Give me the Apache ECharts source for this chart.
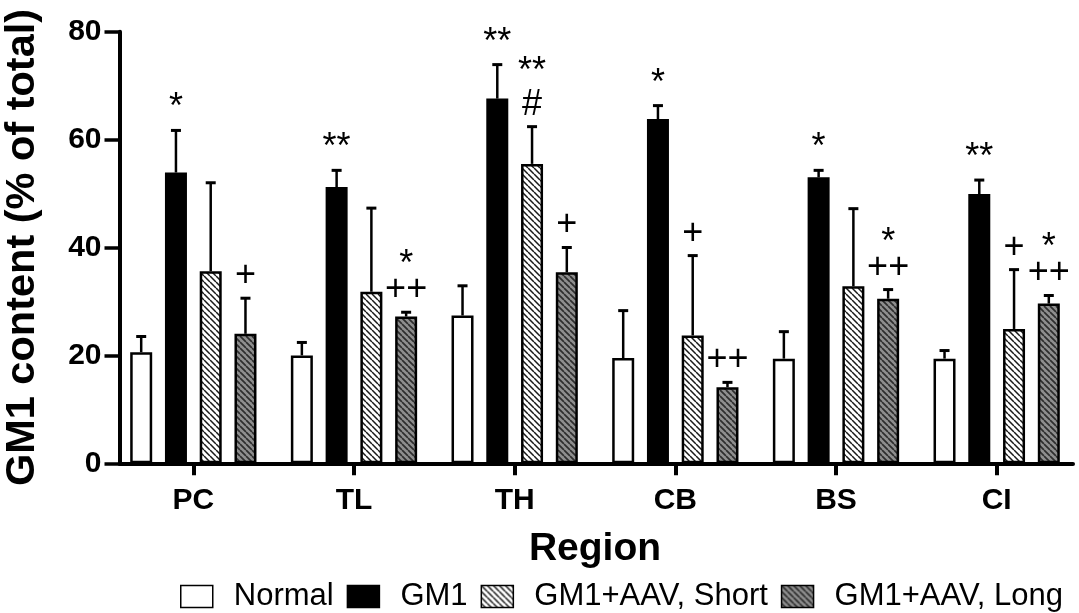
<!DOCTYPE html>
<html>
<head>
<meta charset="utf-8">
<script src="https://cdn.jsdelivr.net/npm/echarts@6/dist/echarts.min.js"></script>
<style>
html,body{margin:0;padding:0;background:#fff;}
#chart{width:1079px;height:613px;}
</style>
</head>
<body>
<div id="chart"></div>
<script>
// ---- data ----
const categories = ['PC', 'TL', 'TH', 'CB', 'BS', 'CI'];
const seriesNames = ['Normal', 'GM1', 'GM1+AAV, Short', 'GM1+AAV, Long'];
const normalMean = [20.6, 20.0, 27.4, 19.5, 19.4, 19.4];
const normalSD   = [2.9, 2.4, 5.5, 8.8, 5.0, 1.5];
const gm1Mean    = [53.9, 51.2, 67.6, 63.8, 53.0, 49.9];
const gm1SD      = [7.8, 3.1, 6.3, 2.5, 1.3, 2.6];
const shortMean  = [35.6, 31.8, 55.5, 23.7, 32.8, 24.9];
const shortSD    = [16.4, 15.5, 6.9, 14.8, 14.4, 11.0];
const longMean   = [24.0, 27.2, 35.4, 14.1, 30.5, 29.6];
const longSD     = [6.6, 0.8, 4.6, 0.9, 1.7, 1.5];
const normalSig  = ['', '', '', '', '', ''];
const gm1Sig     = ['*', '**', '**', '*', '*', '**'];
const shortSig   = ['', '', '**\n#', '+', '', '+'];
const longSig    = ['+', '*\n++', '+', '++', '*\n++', '*\n++'];
const yTicks = [0, 20, 40, 60, 80];

const means = [normalMean, gm1Mean, shortMean, longMean];
const sds = [normalSD, gm1SD, shortSD, longSD];
const sigs = [normalSig, gm1Sig, shortSig, longSig];

// ---- styles ----
const FONT = '"Liberation Sans", Arial, sans-serif';
const BAR_W = 22, GAP = 0.58;
const SIG_SIZE = 36, SIG_LINE = 25, SIG_LINE_TALL = 33, SIG_OFFSET = 22;

function stripe(bg, fg, lw) {
  const s = 6;
  const c = document.createElement('canvas');
  c.width = s; c.height = s;
  const g = c.getContext('2d');
  g.fillStyle = bg; g.fillRect(0, 0, s, s);
  g.strokeStyle = fg; g.lineWidth = lw;
  g.beginPath();
  for (let k = -1; k <= 1; k++) { g.moveTo(k * s, 0); g.lineTo(k * s + s, s); }
  g.stroke();
  return c;
}
const fills = [
  '#ffffff',
  '#000000',
  { image: stripe('#ffffff', '#1a1a1a', 1.5), repeat: 'repeat' },
  { image: stripe('#8e8e8e', '#2e2e2e', 1.7), repeat: 'repeat' }
];

const chart = echarts.init(document.getElementById('chart'), null, { renderer: 'canvas' });

const barSeries = seriesNames.map((name, si) => ({
  name: name,
  type: 'bar',
  xAxisIndex: 1, yAxisIndex: 1,
  barWidth: BAR_W,
  barGap: (GAP * 100) + '%',
  data: means[si],
  itemStyle: { color: fills[si], borderColor: '#000', borderWidth: 2.5 },
  emphasis: { disabled: true },
  z: 2
}));

const errSeries = seriesNames.map((name, si) => ({
  type: 'custom',
  xAxisIndex: 1, yAxisIndex: 1,
  z: 5,
  silent: true,
  data: categories.map((c, i) => [i, means[si][i], sds[si][i]]),
  renderItem: function (params, api) {
    const off = (si - 1.5) * BAR_W * (1 + GAP);
    const cat = api.value(0), m = api.value(1), s = api.value(2);
    const p0 = api.coord([cat, m]);
    const p1 = api.coord([cat, m + s]);
    const x = p0[0] + off;
    const children = [
      { type: 'line', shape: { x1: x, y1: p0[1], x2: x, y2: p1[1] }, style: { stroke: '#000', lineWidth: 2.5 } },
      { type: 'line', shape: { x1: x - 5, y1: p1[1], x2: x + 5, y2: p1[1] }, style: { stroke: '#000', lineWidth: 3 } }
    ];
    const label = sigs[si][params.dataIndex];
    if (label) {
      const lines = label.split('\n').reverse();
      let cy = p1[1] - SIG_OFFSET;
      lines.forEach((ln, li) => {
        if (li > 0) cy -= (lines[li - 1] === '#') ? SIG_LINE_TALL : SIG_LINE;
        children.push({
          type: 'text',
          style: {
            text: ln, x: x, y: cy,
            align: 'center', verticalAlign: 'middle',
            fontSize: SIG_SIZE, fontFamily: FONT, fill: '#000'
          }
        });
      });
    }
    return { type: 'group', children: children };
  }
}));

const option = {
  backgroundColor: '#ffffff',
  animation: false,
  grid: [
    { left: 119.5, right: 6, top: 31.7, bottom: 149.7, containLabel: false, outerBoundsMode: 'none' },
    { left: 113, right: 2, top: 31.7, bottom: 149.7, containLabel: false, outerBoundsMode: 'none' }
  ],
  legend: {
    data: seriesNames,
    left: 180, top: 581,
    padding: 0,
    icon: 'rect',
    itemWidth: 32, itemHeight: 22,
    itemGap: 13,
    selectedMode: false,
    itemStyle: { borderColor: '#000', borderWidth: 1.5 },
    textStyle: { fontFamily: FONT, fontSize: 31, color: '#000', padding: [0, 0, 0, 16] }
  },
  xAxis: [
    {
      type: 'value', gridIndex: 0, min: 0, max: 1,
      axisLine: { show: true, lineStyle: { color: '#000', width: 4 } },
      axisTick: { show: false }, axisLabel: { show: false }, splitLine: { show: false }
    },
    {
      type: 'category', gridIndex: 1, data: categories,
      axisLine: { show: false },
      axisTick: { show: true, alignWithLabel: true, length: 12, lineStyle: { color: '#000', width: 4 } },
      axisLabel: { fontFamily: FONT, fontSize: 30, fontWeight: 'bold', color: '#000', margin: 22 },
      name: 'Region', nameLocation: 'middle', nameGap: 66,
      nameTextStyle: { fontFamily: FONT, fontSize: 39, fontWeight: 'bold', color: '#000' }
    }
  ],
  yAxis: [
    {
      type: 'value', gridIndex: 0, min: yTicks[0], max: yTicks[yTicks.length - 1], interval: yTicks[1] - yTicks[0],
      axisLine: { show: true, lineStyle: { color: '#000', width: 4 } },
      axisTick: { show: true, length: 15, lineStyle: { color: '#000', width: 3.5 } },
      axisLabel: { fontFamily: FONT, fontSize: 30, fontWeight: 'bold', color: '#000', margin: 18 },
      splitLine: { show: false },
      name: 'GM1 content (% of total)', nameLocation: 'middle', nameGap: 76,
      nameTextStyle: { fontFamily: FONT, fontSize: 41.5, fontWeight: 'bold', color: '#000' }
    },
    {
      type: 'value', gridIndex: 1, min: yTicks[0], max: yTicks[yTicks.length - 1], show: false
    }
  ],
  series: barSeries.concat(errSeries)
};
chart.setOption(option);
</script>
</body>
</html>
